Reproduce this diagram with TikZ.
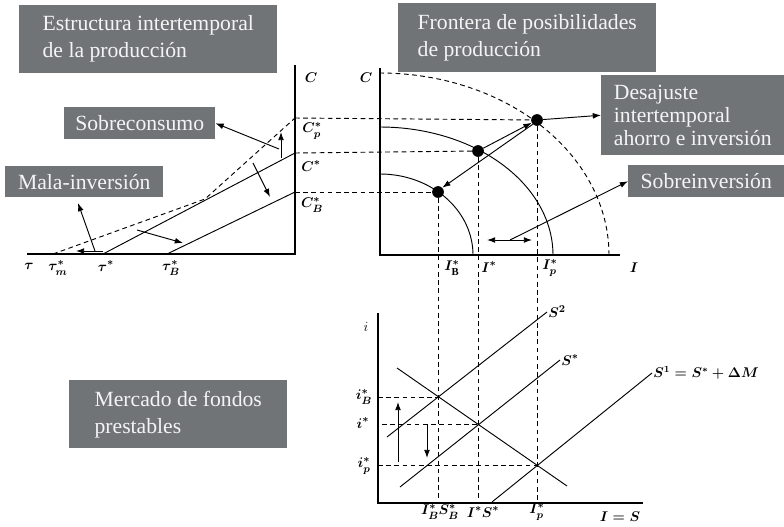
\documentclass[tikz,border=0pt]{standalone}
\usepackage{amsmath}
\usepackage{fontspec}
\setmainfont{Liberation Serif}
\usetikzlibrary{arrows.meta}
\definecolor{cajagris}{HTML}{717477}
\definecolor{cajatexto}{HTML}{F4F4F4}
\tikzset{
  caja/.style={fill=cajagris, text=cajatexto, font=\fontsize{18.5}{23}\selectfont, anchor=north west, align=left, inner sep=0pt},
  lab/.style={font=\fontsize{13}{15}\selectfont\boldmath, inner sep=1pt},
  eje/.style={line width=1.8pt},
  curva/.style={line width=0.8pt},
  guia/.style={line width=0.8pt, dash pattern=on 4pt off 3pt},
  flecha/.style={line width=0.8pt, -{Latex[length=7pt,width=5pt]}},
  flechas/.style={line width=0.8pt, {Latex[length=7pt,width=5pt]}-{Latex[length=7pt,width=5pt]}},
  punto/.style={circle, fill=black, inner sep=0pt, minimum size=10pt}
}

\begin{document}
\begin{tikzpicture}[x=0.03cm, y=-0.03cm]
\useasboundingbox (0,0) rectangle (784,526);

\node[caja, minimum width=7.74cm, minimum height=2.04cm] (estructura) at (19,5) {Estructura intertemporal\\de la producción};
\node[caja, minimum width=7.74cm, minimum height=2.07cm] (frontera) at (398,3) {Frontera de posibilidades\\de producción};
\node[caja, minimum width=5.49cm, minimum height=2.4cm, font=\fontsize{18.5}{19.5}\selectfont] (desajuste) at (601,75) {Desajuste\\intertemporal\\ahorro e inversión};
\node[caja, minimum width=4.68cm, minimum height=0.96cm] (sobreinv) at (628,165) {Sobreinversión};
\node[caja, minimum width=4.53cm, minimum height=0.96cm] (sobrecons) at (64,107) {Sobreconsumo};
\node[caja, minimum width=4.74cm, minimum height=0.93cm] (mala) at (5,166) {Mala-inversión};
\node[caja, minimum width=6.54cm, minimum height=2.04cm] (mercado) at (69,380) {Mercado de fondos\\prestables};

\coordinate (c1top) at (295,65);
\coordinate (o1) at (295,254);
\coordinate (t0) at (27,254);
\coordinate (tm) at (53,254);
\coordinate (ts) at (103,254);
\coordinate (tb) at (167,254);
\coordinate (cp) at (295,118);
\coordinate (cs) at (295,153);
\coordinate (cb) at (295,192);
\coordinate (k) at (205,199);
\draw[eje] (c1top) -- (o1) -- (t0);
\draw[curva] (ts) -- (cs);
\draw[curva] (tb) -- (cb);
\draw[guia] (tm) -- (k) -- (cp);

\node[lab] (lc1) at (311,78) {$C$};
\node[lab] (lcp) at (312,131) {$C_p^*$};
\node[lab] (lcs) at (311,166) {$C^*$};
\node[lab] (lcb) at (312,205) {$C_B^*$};
\node[lab] (ltau) at (29,266) {$\tau$};
\node[lab] (ltm) at (58,268) {$\tau_m^*$};
\node[lab] (lts) at (106,266) {$\tau^*$};
\node[lab] (ltb) at (171,268) {$\tau_B^*$};

\coordinate (a1) at (281,158);
\coordinate (a2) at (281,132);
\coordinate (a3) at (279,149);
\coordinate (a4) at (253,163);
\coordinate (a5) at (270,197);
\coordinate (a6) at (137,230);
\coordinate (a7) at (183,243);
\coordinate (a8) at (95,251);
\coordinate (a9) at (78,203);
\coordinate (a10) at (103,251);
\coordinate (a11) at (76,251);
\draw[flecha] (a1) -- (a2);
\draw[flecha] (a3) -- (sobrecons.east);
\draw[flecha] (a4) -- (a5);
\draw[flecha] (a6) -- (a7);
\draw[flecha] (a8) -- (a9);
\draw[flecha] (a10) -- (a11);

\coordinate (c2top) at (380,68);
\coordinate (o2) at (380,255);
\coordinate (iend) at (620,255);
\draw[eje] (c2top) -- (o2) -- (iend);
\draw[guia] plot[domain=0:90, samples=60, smooth] ({380+229*cos(\x)}, {255-182*sin(\x)});
\draw[curva] plot[domain=0:90, samples=50, smooth] ({380+173*cos(\x)}, {255-128*sin(\x)});
\draw[curva] plot[domain=0:90, samples=40, smooth] ({380+93*cos(\x)}, {255-81*sin(\x)});

\node[punto] (p1) at (438,192) {};
\node[punto] (p2) at (478,151) {};
\node[punto] (p3) at (537,120) {};

\node[lab] (lc2) at (366,78) {$C$};
\node[lab] (li) at (634,268) {$I$};
\node[lab] (lib) at (452,268) {$I_{\mathrm{B}}^*$};
\node[lab] (lis) at (489,267) {$I^*$};
\node[lab] (lip) at (550,268) {$I_p^*$};

\coordinate (vb) at (438,503);
\coordinate (vs) at (478,503);
\coordinate (vp) at (537,503);
\draw[guia] (cp) -- (p3);
\draw[guia] (cs) -- (p2);
\draw[guia] (cb) -- (p1);
\draw[guia] (p1) -- (vb);
\draw[guia] (p2) -- (vs);
\draw[guia] (p3) -- (vp);

\coordinate (d1) at (487,240);
\coordinate (d2) at (532,240);
\coordinate (d3) at (510,240);
\draw[flecha] (p2) -- (p3);
\draw[flecha] (p3.south west) -- (p1.north east);
\draw[flecha] (p3) -- (desajuste.west);
\draw[flechas] (d1) -- (d2);
\draw[flecha] (d3) -- (sobreinv.west);

\coordinate (i3top) at (378,313);
\coordinate (o3) at (378,503);
\coordinate (send) at (643,503);
\draw[eje] (i3top) -- (o3) -- (send);

\coordinate (eb) at (439,397);
\coordinate (es) at (478,424);
\coordinate (ep) at (537,465);
\coordinate (ib) at (378,397);
\coordinate (is) at (382,424);
\coordinate (ip) at (378,465);
\draw[guia] (ib) -- (eb);
\draw[guia] (is) -- (es);
\draw[guia] (ip) -- (ep);

\coordinate (da) at (397,368);
\coordinate (db) at (567,486);
\coordinate (s2a) at (387,437);
\coordinate (s2b) at (547,312);
\coordinate (ssa) at (400,487);
\coordinate (ssb) at (560,360);
\coordinate (s1a) at (492,502);
\coordinate (s1b) at (652,373);
\draw[curva] (da) -- (db);
\draw[curva] (s2a) -- (s2b);
\draw[curva] (ssa) -- (ssb);
\draw[curva] (s1a) -- (s1b);

\node[lab, anchor=west] (ls2) at (s2b) {$S^2$};
\node[lab, anchor=west] (lss) at (ssb) {$S^*$};
\node[lab, anchor=west, font=\fontsize{12}{14}\selectfont\boldmath] (ls1) at (s1b) {$S^1 = S^* + \Delta M$};

\coordinate (u1) at (398,462);
\coordinate (u2) at (398,402);
\coordinate (w1) at (427,425);
\coordinate (w2) at (427,458);
\draw[flecha] (u1) -- (u2);
\draw[flecha] (w1) -- (w2);

\node[lab, font=\fontsize{12}{14}\selectfont] (lii) at (366,327) {$i$};
\node[lab] (liib) at (364,397) {$i_B^*$};
\node[lab] (liis) at (363,423) {$i^*$};
\node[lab] (liip) at (364,466) {$i_p^*$};
\node[lab] (lisb) at (440,512) {$I_B^*S_B^*$};
\node[lab] (liss) at (483,512) {$I^*S^*$};
\node[lab] (lisp) at (537,512) {$I_p^*$};
\node[lab] (lieq) at (620,517) {$I = S$};
\end{tikzpicture}
\end{document}
